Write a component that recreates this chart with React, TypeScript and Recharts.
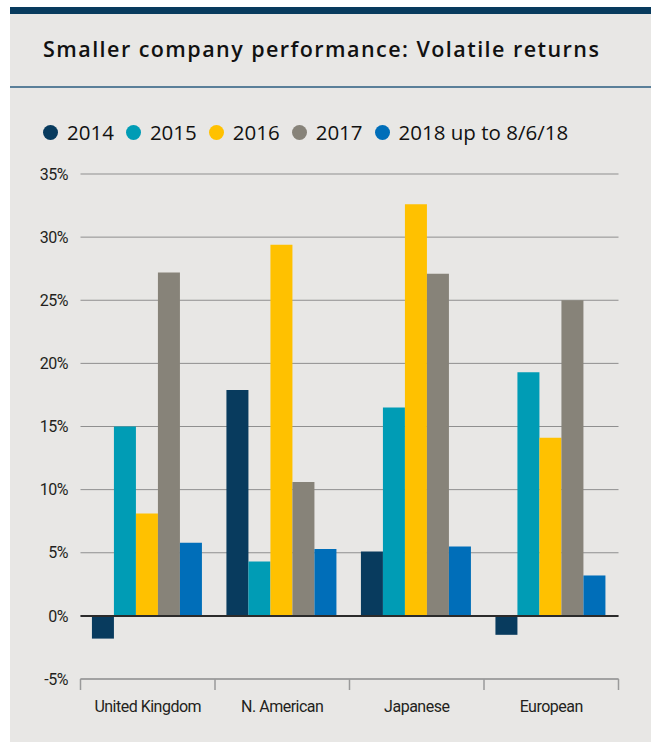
import {
  Bar,
  BarChart,
  CartesianGrid,
  ReferenceLine,
  XAxis,
  YAxis,
} from "recharts";

const categories = ["United Kingdom", "N. American", "Japanese", "European"];

const v2014 = [-1.8, 17.9, 5.1, -1.5];
const v2015 = [15.0, 4.3, 16.5, 19.3];
const v2016 = [8.1, 29.4, 32.6, 14.1];
const v2017 = [27.2, 10.6, 27.1, 25.0];
const v2018 = [5.8, 5.3, 5.5, 3.2];

const yTicks = [-5, 0, 5, 10, 15, 20, 25, 30, 35];

const series = [
  { key: "y2014", name: "2014", values: v2014, color: "#083b5e" },
  { key: "y2015", name: "2015", values: v2015, color: "#009cb5" },
  { key: "y2016", name: "2016", values: v2016, color: "#ffc100" },
  { key: "y2017", name: "2017", values: v2017, color: "#878379" },
  { key: "y2018", name: "2018 up to 8/6/18", values: v2018, color: "#006eb9" },
];

const data = categories.map((c, i) => {
  const row: Record<string, string | number> = { category: c };
  series.forEach((s) => {
    row[s.key] = s.values[i];
  });
  return row;
});

const tickStyle = {
  fill: "#231f20",
  fontSize: 16,
  fontFamily: "Roboto, sans-serif",
  letterSpacing: -0.5,
};

const axisGrey = "#9a9a9a";

// category label plus the boundary tick marks between groups
function CategoryTick(props: any) {
  const { x, y, payload, index, visibleTicksCount, width } = props;
  const half = payload.offset || width / visibleTicksCount / 2;
  return (
    <g>
      <line x1={x - half} x2={x - half} y1={y} y2={y + 11} stroke={axisGrey} strokeWidth={1.5} />
      {index === visibleTicksCount - 1 && (
        <line x1={x + half} x2={x + half} y1={y} y2={y + 11} stroke={axisGrey} strokeWidth={1.5} />
      )}
      <text
        x={x}
        y={y + 22}
        dy="0.71em"
        textAnchor="middle"
        fill={tickStyle.fill}
        fontSize={tickStyle.fontSize}
        fontFamily={tickStyle.fontFamily}
        letterSpacing={tickStyle.letterSpacing}
      >
        {payload.value}
      </text>
    </g>
  );
}

export default function App() {
  return (
    <div style={{ position: "absolute", left: 0, top: 0, width: 651, height: 742, background: "#fff" }}>
      {/* panel */}
      <div
        style={{
          position: "absolute",
          left: 10,
          top: 7,
          width: 641,
          height: 735,
          background: "#e8e7e5",
        }}
      />
      <div style={{ position: "absolute", left: 10, top: 7, width: 641, height: 7, background: "#083b5e" }} />

      {/* title */}
      <div
        style={{
          position: "absolute",
          left: 43,
          top: 38,
          fontFamily: "'Open Sans', sans-serif",
          fontWeight: 600,
          fontSize: 21.5,
          lineHeight: "22px",
          letterSpacing: 1.45,
          color: "#111",
          whiteSpace: "nowrap",
        }}
      >
        Smaller company performance: Volatile returns
      </div>
      <div style={{ position: "absolute", left: 10, top: 86, width: 641, height: 1.5, background: "#5a7f99" }} />

      {/* legend */}
      <div
        style={{
          position: "absolute",
          left: 43,
          top: 121,
          display: "flex",
          alignItems: "center",
          fontFamily: "'Open Sans', sans-serif",
          fontSize: 20.5,
          lineHeight: "22px",
          color: "#111",
          whiteSpace: "nowrap",
        }}
      >
        {series.map((s) => (
          <div key={s.key} style={{ display: "flex", alignItems: "center", marginRight: 12 }}>
            <span
              style={{
                width: 15,
                height: 15,
                borderRadius: "50%",
                background: s.color,
                marginRight: 9,
                display: "inline-block",
              }}
            />
            <span>{s.name}</span>
          </div>
        ))}
      </div>

      {/* chart */}
      <div style={{ position: "absolute", left: 0, top: 150 }}>
        <BarChart
          width={651}
          height={592}
          data={data}
          margin={{ top: 24, right: 32.5, left: 0, bottom: 11 }}
          barCategoryGap="8.5%"
          barGap={0}
        >
          <CartesianGrid vertical={false} stroke="#8f8f8f" strokeWidth={1} />
          <XAxis
            dataKey="category"
            height={52}
            axisLine={{ stroke: axisGrey, strokeWidth: 1.5 }}
            tickLine={false}
            tickSize={0}
            tickMargin={0}
            interval={0}
            tick={<CategoryTick />}
          />
          <YAxis
            domain={[-5, 35]}
            ticks={yTicks}
            width={80.5}
            axisLine={false}
            tickLine={false}
            tickSize={0}
            tickMargin={12.5}
            tick={tickStyle}
            tickFormatter={(v) => `${v}%`}
          />
          {series.map((s) => (
            <Bar
              key={s.key}
              dataKey={s.key}
              name={s.name}
              fill={s.color}
              isAnimationActive={false}
            />
          ))}
          <ReferenceLine y={0} stroke="#2b2b2b" strokeWidth={2} />
        </BarChart>
      </div>
    </div>
  );
}
